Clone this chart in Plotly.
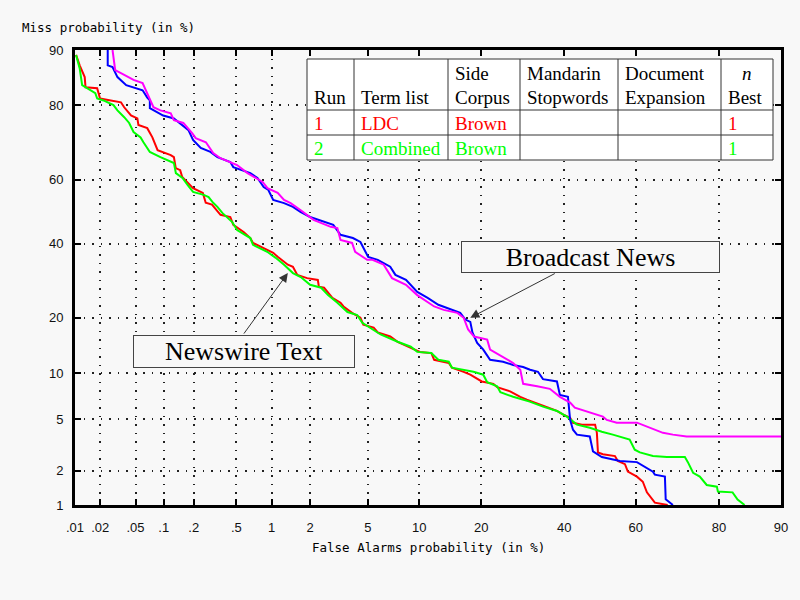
"""
DET curves for the Newswire Text and Broadcast News runs.
Both axes use the normal deviate (probit) scale, labelled in percent.
"""
from statistics import NormalDist
import plotly.graph_objects as go

# ---- data (percent) ----
# Newswire Text, run 1 (red)
red_fa = [0.0103, 0.0114, 0.0131, 0.0134, 0.0184, 0.0199, 0.0345, 0.0375, 0.0446, 0.0524,
          0.0538, 0.067, 0.076, 0.0862, 0.118, 0.127, 0.1326, 0.147, 0.154, 0.1776,
          0.197, 0.245, 0.261, 0.299, 0.359, 0.441, 0.469, 0.579, 0.662, 0.698,
          0.859, 1.03, 1.12, 1.35, 1.48, 1.6, 1.9, 2.28, 2.32, 2.53,
          2.9, 3.3, 3.46, 3.95, 4.48, 4.68, 5.44, 5.77, 6.86, 7.58,
          9.0, 10.1, 11.6, 12.0, 14.2, 14.7, 16.7, 17.9, 20.1, 22.5,
          23.3, 26.2, 28.6, 30.2, 34.3, 38.0, 39.6, 41.6, 42.4, 44.9,
          48.6, 49.1, 49.4, 50.8, 54.2, 55.0, 57.0, 57.8, 60.3, 61.9,
          63.0, 65.1, 68.4]
red_miss = [89.3, 87.7, 85.7, 83.8, 83.6, 81.5, 80.7, 79.6, 77.7, 77.0,
            75.4, 74.6, 72.2, 68.7, 67.3, 66.7, 63.5, 62.9, 60.8, 59.0,
            57.4, 55.9, 52.8, 52.2, 49.0, 48.3, 45.8, 43.6, 41.7, 40.2,
            38.7, 37.2, 36.0, 33.7, 33.1, 30.8, 29.9, 29.4, 27.6, 27.3,
            24.7, 23.5, 22.6, 21.1, 20.0, 18.5, 17.9, 16.9, 16.1, 15.1,
            14.0, 13.3, 13.1, 12.0, 11.5, 10.8, 10.2, 9.8, 8.9, 8.6,
            8.2, 7.7, 7.1, 6.8, 6.2, 5.7, 5.4, 5.1, 4.7, 4.56,
            4.56, 3.97, 2.81, 2.72, 2.63, 2.4, 2.26, 1.96, 1.78, 1.61,
            1.30, 1.05, 1.0]

# Newswire Text, run 2 (green)
green_fa = [0.0103, 0.0114, 0.0122, 0.0175, 0.0184, 0.0218, 0.0284, 0.0315, 0.0375, 0.0426,
            0.0476, 0.0568, 0.061, 0.0714, 0.0923, 0.109, 0.127, 0.133, 0.155, 0.174,
            0.197, 0.25, 0.278, 0.307, 0.336, 0.373, 0.459, 0.507, 0.662, 0.698,
            0.92, 1.08, 1.26, 1.48, 1.7, 2.0, 2.41, 2.7, 3.14, 3.68,
            4.27, 4.61, 5.18, 6.0, 7.58, 9.0, 9.77, 11.6, 12.6, 14.2,
            14.7, 18.5, 20.4, 21.2, 23.3, 24.0, 26.9, 30.9, 34.3, 38.0,
            40.7, 43.5, 47.1, 50.5, 53.6, 56.4, 58.3, 59.7, 61.1, 64.6,
            68.2, 72.6, 73.3, 74.5, 76.0, 77.5, 79.6, 79.8, 82.6, 83.5,
            84.7]
green_miss = [89.3, 87.2, 84.2, 82.6, 81.5, 81.1, 80.1, 78.9, 77.3, 75.9,
              73.6, 72.2, 70.9, 68.2, 66.7, 65.9, 65.0, 62.0, 60.5, 58.4,
              56.2, 55.3, 54.6, 52.8, 51.5, 49.6, 46.7, 44.2, 41.7, 39.6,
              37.5, 35.7, 33.7, 31.3, 30.2, 28.1, 27.3, 25.4, 23.5, 21.3,
              20.6, 18.9, 17.9, 16.5, 15.1, 14.2, 13.3, 13.1, 12.0, 11.7,
              10.8, 10.2, 9.8, 8.8, 8.3, 7.6, 7.1, 6.6, 6.1, 5.7,
              5.2, 4.56, 4.33, 4.04, 3.85, 3.66, 3.54, 2.95, 2.81, 2.63,
              2.58, 2.58, 2.35, 1.92, 1.78, 1.51, 1.46, 1.32, 1.30, 1.12,
              1.0]

# Broadcast News (blue)
blue_fa = [0.0244, 0.0244, 0.0277, 0.0315, 0.0395, 0.0465, 0.0597, 0.067, 0.0714, 0.0714,
           0.0986, 0.127, 0.154, 0.1776, 0.197, 0.234, 0.289, 0.336, 0.441, 0.469,
           0.662, 0.762, 0.859, 0.94, 1.03, 1.26, 1.48, 1.69, 2.0, 2.94,
           3.3, 4.0, 4.48, 5.02, 5.77, 6.86, 7.36, 8.46, 9.77, 11.1,
           12.6, 16.1, 17.0, 17.9, 18.3, 19.2, 20.4, 21.8, 24.6, 26.9,
           29.3, 31.0, 33.0, 34.3, 38.0, 38.8, 41.0, 41.6, 42.4, 43.5,
           47.1, 48.0, 50.5, 55.6, 60.3, 62.4, 64.6, 65.1, 67.7, 67.9,
           69.7]
blue_miss = [90.0, 87.7, 87.4, 85.7, 84.2, 83.8, 83.2, 81.7, 81.1, 79.4,
             77.7, 77.0, 75.4, 74.1, 71.5, 69.3, 68.2, 66.7, 65.3, 63.8,
             62.0, 60.5, 57.7, 56.8, 53.7, 52.7, 51.5, 49.9, 48.3, 45.8,
             42.7, 41.7, 40.5, 36.0, 35.1, 33.1, 30.8, 29.4, 26.2, 24.7,
             23.0, 21.1, 19.6, 19.1, 16.9, 14.9, 13.7, 12.0, 11.7, 11.2,
             10.9, 10.5, 10.2, 9.2, 8.9, 7.3, 7.1, 4.93, 4.19, 3.85,
             3.73, 2.86, 2.58, 2.40, 2.35, 2.17, 1.96, 1.85, 1.78, 1.13,
             1.0]

# Broadcast News (magenta)
magenta_fa = [0.0277, 0.0297, 0.0345, 0.0476, 0.0597, 0.067, 0.078, 0.0923, 0.118, 0.127,
              0.158, 0.193, 0.209, 0.262, 0.307, 0.359, 0.507, 0.626, 0.843, 0.924,
              1.12, 1.26, 1.42, 1.69, 2.12, 2.82, 3.14, 3.3, 3.95, 4.14,
              4.95, 5.35, 6.27, 7.03, 8.46, 9.77, 12.0, 13.4, 15.6, 16.7,
              17.5, 18.6, 21.2, 21.8, 24.6, 26.9, 28.6, 29.3, 32.8, 36.1,
              38.8, 41.6, 42.9, 46.3, 50.8, 51.9, 54.7, 60.3, 63.8, 67.2,
              69.7, 73.0, 90.0]
magenta_miss = [90.0, 86.9, 86.4, 85.2, 84.6, 82.6, 79.6, 78.9, 78.2, 76.6,
                75.9, 73.3, 72.0, 70.9, 67.9, 66.4, 64.4, 62.0, 59.3, 57.4,
                55.9, 53.7, 52.7, 50.5, 47.4, 45.2, 44.8, 41.1, 40.2, 37.5,
                35.1, 35.1, 33.7, 29.9, 28.1, 25.4, 22.6, 21.8, 21.1, 20.0,
                17.5, 16.1, 15.5, 13.7, 12.5, 11.5, 10.5, 8.6, 8.3, 8.0,
                7.1, 6.5, 6.0, 5.67, 5.2, 4.93, 4.71, 4.71, 4.34, 3.97,
                3.85, 3.73, 3.73]

# tick labels (percent)
x_ticks = [0.01, 0.02, 0.05, 0.1, 0.2, 0.5, 1, 2, 5, 10, 20, 40, 60, 80, 90]
x_tick_text = ['.01', '.02', '.05', '.1', '.2', '.5', '1', '2', '5', '10', '20', '40', '60', '80', '90']
y_ticks = [1, 2, 5, 10, 20, 40, 60, 80, 90]
y_tick_text = ['1', '2', '5', '10', '20', '40', '60', '80', '90']

# run table
table_head_top = ['', '', 'Side', 'Mandarin', 'Document', '<i>n</i>']
table_head_bottom = ['Run', 'Term list', 'Corpus', 'Stopwords', 'Expansion', 'Best']
table_rows = [['1', 'LDC', 'Brown', '', '', '1'],
              ['2', 'Combined', 'Brown', '', '', '1']]
table_row_colors = ['#ff0000', '#00ff00']

# ---- helpers ----
probit = NormalDist().inv_cdf


def to_deviate(percents):
    """Percent values -> normal deviate used by the axes."""
    return [probit(p / 100.0) for p in percents]


# plot box in pixels (800x600 page)
PL, PT, PW, PH = 75, 50, 706, 455


def px_x(p):
    return (p - PL) / PW


def px_y(p):
    return (PT + PH - p) / PH


fig = go.Figure()

for fa, miss, color in [(red_fa, red_miss, '#ff0000'),
                        (green_fa, green_miss, '#00ff00'),
                        (blue_fa, blue_miss, '#0000ff'),
                        (magenta_fa, magenta_miss, '#ff00ff')]:
    fig.add_trace(go.Scatter(x=to_deviate(fa), y=to_deviate(miss), mode='lines',
                             line=dict(color=color, width=2), hoverinfo='skip'))

axis_style = dict(
    showline=True, linewidth=3, linecolor='black', mirror='ticks',
    ticks='inside', ticklen=6, tickwidth=2, tickcolor='black',
    showgrid=True, gridcolor='#222222', gridwidth=1.5, griddash='1.5px,7px',
    zeroline=False, tickfont=dict(family='Liberation Sans', size=13, color='#111111'),
)

eps = 1e-6
fig.update_xaxes(range=[probit(0.0001) - eps, probit(0.9) + eps],
                 tickvals=to_deviate(x_ticks), ticktext=x_tick_text,
                 ticklabelstandoff=8, **axis_style)
fig.update_yaxes(range=[probit(0.01) - eps, probit(0.9) + eps],
                 tickvals=to_deviate(y_ticks), ticktext=y_tick_text,
                 ticklabelstandoff=6, **axis_style)

annotations = []
shapes = []

# axis titles
mono = dict(family='DejaVu Sans Mono', size=12.5, color='black')
annotations.append(dict(text='Miss probability (in %)', xref='paper', yref='paper',
                        x=px_x(20), y=px_y(28), xanchor='left', yanchor='middle',
                        showarrow=False, font=mono))
annotations.append(dict(text='False Alarms probability (in %)', xref='paper', yref='paper',
                        x=0.5, y=px_y(547), xanchor='center', yanchor='middle',
                        showarrow=False, font=mono))

# ---- run table ----
col_edges = [307, 354, 448, 520, 618, 721, 773]
row_edges = [59, 110, 135, 160]
line = dict(color='#333333', width=1)
shapes.append(dict(type='rect', xref='paper', yref='paper',
                   x0=px_x(col_edges[0]), x1=px_x(col_edges[-1]),
                   y0=px_y(row_edges[0]), y1=px_y(row_edges[-1]),
                   fillcolor='white', line=line, layer='above'))
for cx in col_edges[1:-1]:
    shapes.append(dict(type='line', xref='paper', yref='paper', x0=px_x(cx), x1=px_x(cx),
                       y0=px_y(row_edges[0]), y1=px_y(row_edges[-1]), line=line))
for ry in row_edges[1:-1]:
    shapes.append(dict(type='line', xref='paper', yref='paper',
                       x0=px_x(col_edges[0]), x1=px_x(col_edges[-1]),
                       y0=px_y(ry), y1=px_y(ry), line=line))

serif = 'Liberation Serif'


def cell_text(text, col, y_px, color):
    if text == '<i>n</i>':
        x, anchor = px_x((col_edges[col] + col_edges[col + 1]) / 2), 'center'
    else:
        x, anchor = px_x(col_edges[col] + 5), 'left'
    return dict(text=text, xref='paper', yref='paper', x=x, y=px_y(y_px),
                xanchor=anchor, yanchor='middle', showarrow=False,
                font=dict(family=serif, size=19, color=color))


for i, txt in enumerate(table_head_top):
    if txt:
        annotations.append(cell_text(txt, i, 73, 'black'))
for i, txt in enumerate(table_head_bottom):
    annotations.append(cell_text(txt, i, 98, 'black'))
for r, (row, color) in enumerate(zip(table_rows, table_row_colors)):
    for i, txt in enumerate(row):
        if txt:
            annotations.append(cell_text(txt, i, 123 + 25 * r, color))

# ---- call-out labels ----
label_font = dict(family=serif, size=26, color='black')
annotations.append(dict(text='Broadcast News', xref='paper', yref='paper',
                        x=px_x(590.5), y=px_y(257), xanchor='center', yanchor='middle',
                        showarrow=False, font=label_font,
                        width=257, height=30, borderpad=0, bordercolor='#444444',
                        borderwidth=1, bgcolor='#f8f8f8'))
annotations.append(dict(text='Newswire Text', xref='paper', yref='paper',
                        x=px_x(244), y=px_y(351.5), xanchor='center', yanchor='middle',
                        showarrow=False, font=label_font,
                        width=220, height=31, borderpad=0, bordercolor='#444444',
                        borderwidth=1, bgcolor='#f8f8f8'))
# arrows pointing onto the curves
annotations.append(dict(text='', x=probit(0.179), y=probit(0.20), xref='x', yref='y',
                        showarrow=True, ax=86, ay=-45, arrowhead=2, arrowsize=1.8,
                        arrowwidth=1, arrowcolor='#333333'))
annotations.append(dict(text='', x=probit(0.0135), y=probit(0.313), xref='x', yref='y',
                        showarrow=True, ax=-45, ay=62, arrowhead=2, arrowsize=1.8,
                        arrowwidth=1, arrowcolor='#333333'))

fig.update_layout(
    width=800, height=600,
    margin=dict(l=PL, r=800 - PL - PW, t=PT, b=600 - PT - PH),
    paper_bgcolor='#f8f8f8', plot_bgcolor='#f8f8f8',
    showlegend=False,
    shapes=shapes,
    annotations=annotations,
)

# drop the browser's default body margin so the figure sits at the page corner
fig.write_html('out.html', config={'displayModeBar': False},
               post_script="document.body.style.margin='0px';")
